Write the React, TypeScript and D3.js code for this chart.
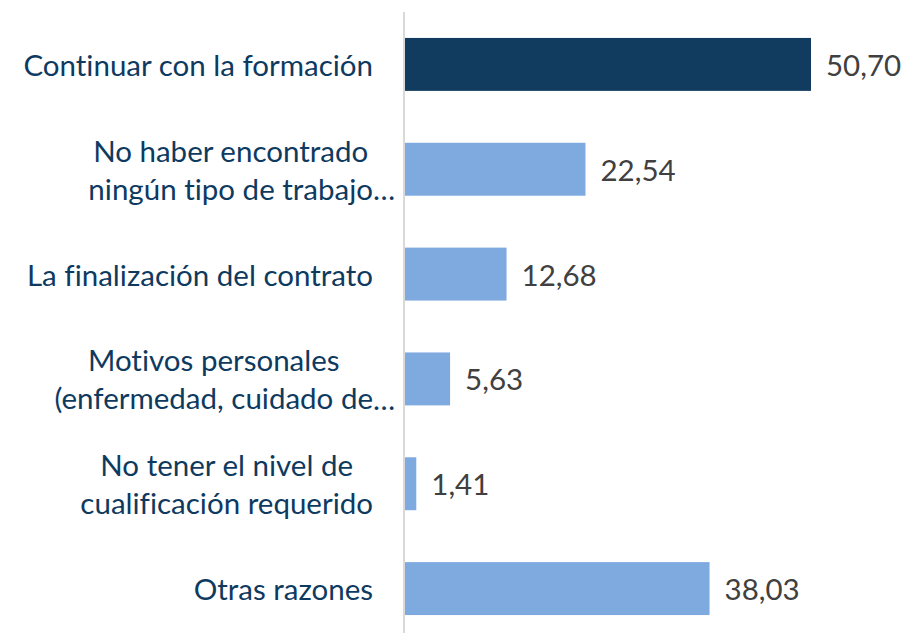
import React, { useRef, useEffect } from 'react';
import * as d3 from 'd3';

// reasons (label lines, trailing ellipsis kept separately)
const categories = [
  'Continuar con la formación',
  'No haber encontrado ningún tipo de trabajo',
  'La finalización del contrato',
  'Motivos personales (enfermedad, cuidado de',
  'No tener el nivel de cualificación requerido',
  'Otras razones',
];
const labelLines = [
  ['Continuar con la formación'],
  ['No haber encontrado', 'ningún tipo de trabajo'],
  ['La finalización del contrato'],
  ['Motivos personales', '(enfermedad, cuidado de'],
  ['No tener el nivel de', 'cualificación requerido'],
  ['Otras razones'],
];
const truncated = [false, true, false, true, false, false];
const values = [50.7, 22.54, 12.68, 5.63, 1.41, 38.03];

const BarChart = () => {
  const chartRef = useRef<SVGSVGElement>(null);

  useEffect(() => {
    if (!chartRef.current) return;
    const svg = d3.select(chartRef.current);
    svg.selectAll('*').remove();

    const height = 633;
    const font = 'Lato, "Open Sans", sans-serif';
    const fontSize = 29.5;

    const x = d3.scaleLinear().domain([0, d3.max(values) as number]).range([405, 811]);
    const y = d3.scaleBand().domain(categories).range([12, 641]).paddingInner(0.495).paddingOuter(0.2475);

    // bars
    svg.append('g')
      .selectAll('rect')
      .data(values)
      .join('rect')
      .attr('x', x(0))
      .attr('y', (d, i) => y(categories[i]) as number)
      .attr('width', d => x(d) - x(0))
      .attr('height', y.bandwidth())
      .attr('fill', (d, i) => (i === 0 ? '#113b5f' : '#7faadf'));

    // vertical axis line
    svg.append('line')
      .attr('x1', 404).attr('x2', 404)
      .attr('y1', 12).attr('y2', height)
      .attr('stroke', '#d9d9d9')
      .attr('stroke-width', 2);

    // value labels
    svg.append('g')
      .selectAll('text')
      .data(values)
      .join('text')
      .attr('x', d => x(d) + 15)
      .attr('y', (d, i) => (y(categories[i]) as number) + y.bandwidth() / 2)
      .attr('dominant-baseline', 'central')
      .attr('font-family', font)
      .attr('font-size', fontSize)
      .attr('fill', '#404040')
      .text(d => d.toFixed(2).replace('.', ','));

    // category labels: lines centred in a box right-aligned at labelRight
    const labelRight = 373;
    const lineH = 38;
    labelLines.forEach((lines, i) => {
      const cy = (y(categories[i]) as number) + y.bandwidth() / 2;
      const g = svg.append('g');
      const texts = lines.map((line, j) =>
        g.append('text')
          .attr('y', cy + (j - (lines.length - 1) / 2) * lineH)
          .attr('dominant-baseline', 'central')
          .attr('font-family', font)
          .attr('font-size', fontSize)
          .style('font-variant-ligatures', 'none')
          .attr('fill', '#0e3a5f')
          .text(line)
      );
      const widths = texts.map(t => (t.node() as SVGTextElement).getComputedTextLength());
      const maxW = d3.max(widths) as number;
      const cx = labelRight - maxW / 2;
      texts.forEach((t, j) => {
        t.attr('x', cx - widths[j] / 2);
        if (truncated[i] && j === lines.length - 1) t.append('tspan').text('…');
      });
    });
  }, []);

  return <svg ref={chartRef} width="903" height="633" style={{ display: 'block' }}></svg>;
};

export default function App() {
  return (
    <div style={{ position: 'absolute', left: 0, top: 0, width: 903, height: 633, background: '#fff' }}>
      <BarChart />
    </div>
  );
}
